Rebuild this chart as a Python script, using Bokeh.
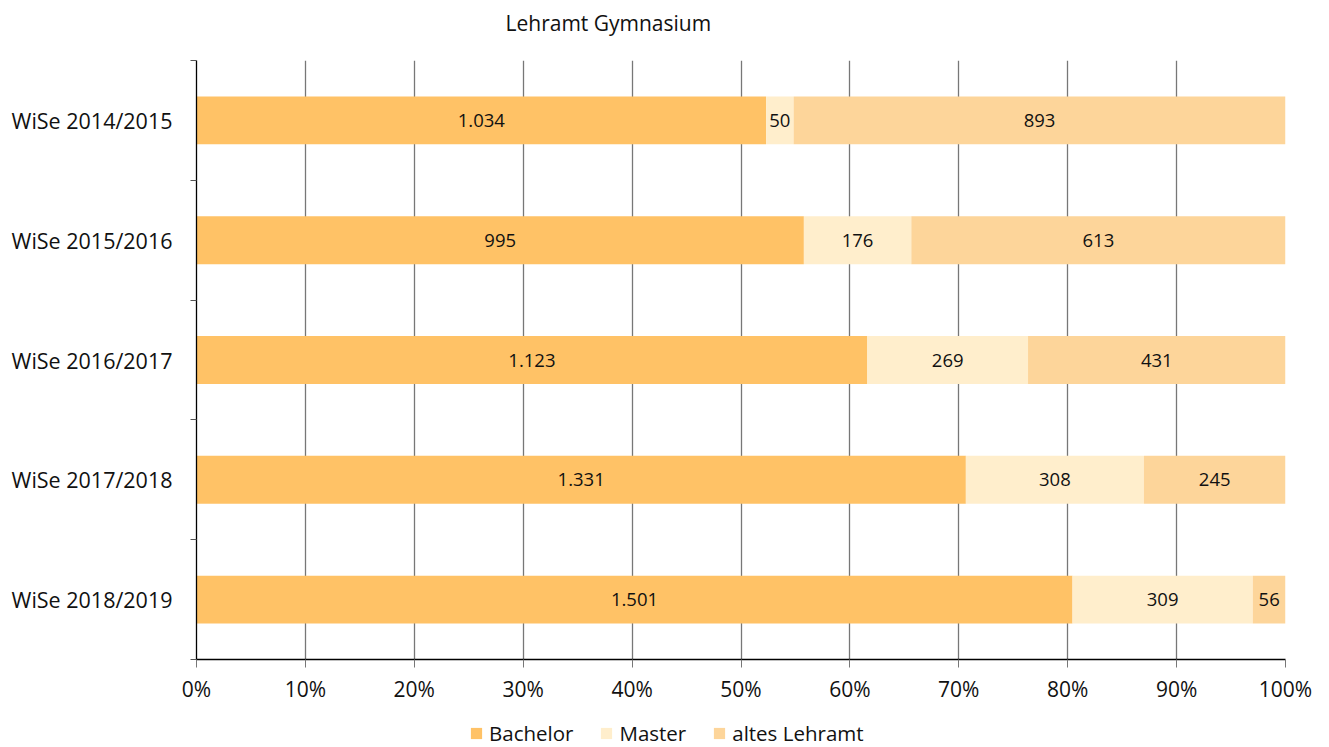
from bokeh.plotting import figure
from bokeh.layouts import column
from bokeh.models import (ColumnDataSource, FixedTicker, PrintfTickFormatter, Legend,
                          LegendItem, Range1d, LabelSet, Label)
from bokeh.core.properties import value
from bokeh.embed import file_html
from bokeh.resources import INLINE

# ---- data ----
semesters = ["WiSe 2014/2015", "WiSe 2015/2016", "WiSe 2016/2017", "WiSe 2017/2018", "WiSe 2018/2019"]
bachelor = [1034, 995, 1123, 1331, 1501]
master = [50, 176, 269, 308, 309]
altes_lehramt = [893, 613, 431, 245, 56]
series_names = ["Bachelor", "Master", "altes Lehramt"]
x_tick_values = [0, 10, 20, 30, 40, 50, 60, 70, 80, 90, 100]
title_text = "Lehramt Gymnasium"

colors = ["#FFC266", "#FFEECC", "#FDD59A"]
FONT = "Open Sans"
W = 1329

n = len(semesters)
y_pos = [n - i - 0.5 for i in range(n)]
series = [bachelor, master, altes_lehramt]
totals = [sum(s[i] for s in series) for i in range(n)]

def fmt(v):
    return f"{v:,}".replace(",", ".")

# ---- title strip (frames are aligned by the column layout) ----
top = figure(width=W, height=60, output_backend="svg", toolbar_location=None,
             x_range=Range1d(0, 1), y_range=Range1d(0, 1), min_border=0,
             x_axis_location=None, y_axis_location=None)
top.outline_line_color = None
top.grid.visible = False
top.add_layout(Label(x=309, y=38, x_units="screen", y_units="screen", text=title_text,
                     text_font=FONT, text_font_size="21px", text_color="#111111",
                     text_baseline="middle", text_align="left"))

# ---- main chart ----
p = figure(width=W, height=645, output_backend="svg", toolbar_location=None,
           x_range=Range1d(0, 100), y_range=Range1d(0, n),
           min_border_left=196, min_border_right=44, min_border_top=0, min_border_bottom=44)
p.outline_line_color = None
p.background_fill_color = "white"
p.border_fill_color = "white"

renderers = []
sources = []
label_x, label_y, label_t = [], [], []
cum = [0.0] * n
for k, s in enumerate(series):
    left = list(cum)
    right = [cum[i] + s[i] / totals[i] * 100 for i in range(n)]
    src = ColumnDataSource(dict(y=y_pos, left=left, right=right))
    sources.append(src)
    r = p.hbar(y="y", left="left", right="right", height=0.4, source=src,
               fill_color=colors[k], line_color=None)
    renderers.append(r)
    for i in range(n):
        label_x.append((left[i] + right[i]) / 2)
        label_y.append(y_pos[i])
        label_t.append(fmt(s[i]))
    cum = right

lsrc = ColumnDataSource(dict(x=label_x, y=label_y, t=label_t))
p.add_layout(LabelSet(x="x", y="y", text="t", source=lsrc, text_align="center",
                      text_baseline="middle", text_font=value(FONT), text_font_size=value("18.5px"),
                      text_color=value("#111111")))

# x axis
p.xaxis.ticker = FixedTicker(ticks=x_tick_values)
p.xaxis.formatter = PrintfTickFormatter(format="%d%%")
p.xaxis.axis_line_color = "black"
p.xaxis.axis_line_width = 1.3
p.xaxis.major_tick_out = 8
p.xaxis.major_tick_in = 0
p.xaxis.major_tick_line_color = "#777777"
p.xaxis.minor_tick_line_color = None
p.xaxis.major_label_text_font = FONT
p.xaxis.major_label_text_font_size = "21px"
p.xaxis.major_label_text_color = "#111111"
p.xaxis.major_label_standoff = 7

# y axis
p.yaxis.ticker = FixedTicker(ticks=y_pos, minor_ticks=list(range(n + 1)))
p.yaxis.major_label_overrides = {y: s for y, s in zip(y_pos, semesters)}
p.yaxis.axis_line_color = "black"
p.yaxis.axis_line_width = 1.3
p.yaxis.major_tick_out = 0
p.yaxis.major_tick_in = 0
p.yaxis.minor_tick_out = 6
p.yaxis.minor_tick_in = 0
p.yaxis.minor_tick_line_color = "#555555"
p.yaxis.major_label_text_font = FONT
p.yaxis.major_label_text_font_size = "21.5px"
p.yaxis.major_label_text_color = "#111111"
p.yaxis.major_label_standoff = 18

# grid
p.ygrid.visible = False
p.xgrid.ticker = FixedTicker(ticks=x_tick_values)
p.xgrid.grid_line_color = "#777777"
p.xgrid.grid_line_width = 1.3

# ---- legend strip beneath the chart ----
lg = figure(width=W, height=42, output_backend="svg", toolbar_location=None,
            x_range=Range1d(0, 1), y_range=Range1d(0, 1),
            min_border=0, x_axis_location=None, y_axis_location=None)
lg.outline_line_color = None
lg.grid.visible = False
key_renderers = []
for k, src in enumerate(sources):
    kr = lg.hbar(y="y", left="left", right="right", height=0.4, source=src,
                 fill_color=colors[k], line_color=None, visible=False)
    key_renderers.append(kr)
legend = Legend(items=[LegendItem(label=nm, renderers=[r]) for nm, r in zip(series_names, key_renderers)],
                orientation="horizontal", location=(273, 0),
                glyph_width=14, glyph_height=14, label_standoff=6, spacing=26,
                label_text_font=FONT, label_text_font_size="20.5px", label_text_color="#111111",
                inactive_fill_alpha=0,
                border_line_color=None, background_fill_alpha=0, padding=0, margin=0)
lg.add_layout(legend, "center")

open("out.html", "w").write(file_html(column(top, p, lg, spacing=0), INLINE))
